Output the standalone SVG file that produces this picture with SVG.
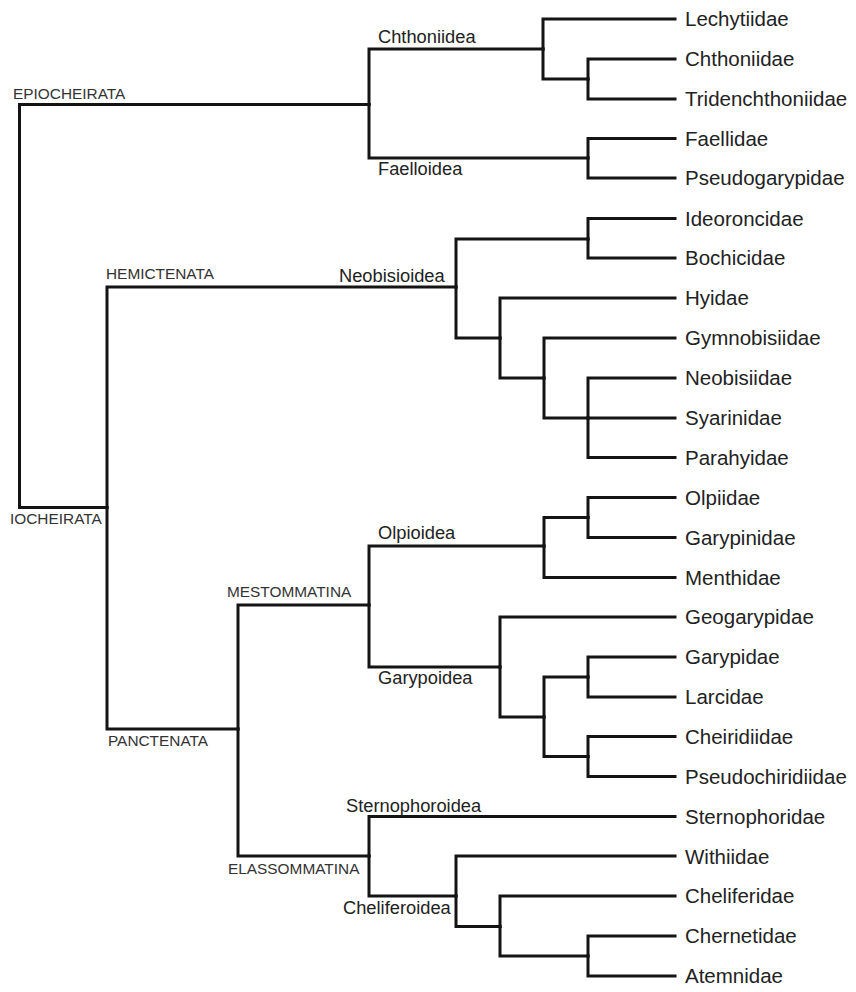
<svg xmlns="http://www.w3.org/2000/svg" width="856" height="992" viewBox="0 0 856 992">
<style>
.e{fill:none;stroke:#141414;stroke-width:3;stroke-linecap:square;stroke-linejoin:miter}
.leaf{font-family:"Liberation Sans",Arial,sans-serif;font-size:20.5px;fill:#222}
.sup{font-family:"Liberation Sans",Arial,sans-serif;font-size:18.3px;fill:#222}
.grp{font-family:"Liberation Sans",Arial,sans-serif;font-size:15.4px;fill:#333}
</style>
<rect width="856" height="992" fill="#fff"/>
<g id="connectors" class="e">
<path d="M19.5,305 V104.5 H369"/>
<path d="M19.5,305 V507.5 H107"/>
<path d="M369,104.5 V49 H543"/>
<path d="M369,104.5 V158 H588"/>
<path d="M543,49 V19 H675"/>
<path d="M543,49 V79 H588"/>
<path d="M588,79 V59 H675"/>
<path d="M588,79 V99 H675"/>
<path d="M588,158 V138.5 H675"/>
<path d="M588,158 V178 H675"/>
<path d="M107,507.5 V287 H456"/>
<path d="M107,507.5 V729 H238"/>
<path d="M456,287 V239 H588"/>
<path d="M456,287 V338 H500"/>
<path d="M588,239 V218.5 H675"/>
<path d="M588,239 V258 H675"/>
<path d="M500,338 V298 H675"/>
<path d="M500,338 V378 H544"/>
<path d="M544,378 V338 H675"/>
<path d="M544,378 V418 H588"/>
<path d="M588,418 V378 H675"/>
<path d="M588,418 H675"/>
<path d="M588,418 V457.5 H675"/>
<path d="M238,729 V605 H369"/>
<path d="M238,729 V856 H369"/>
<path d="M369,605 V546 H544"/>
<path d="M369,605 V667 H500"/>
<path d="M544,546 V517.5 H588"/>
<path d="M544,546 V577.5 H675"/>
<path d="M588,517.5 V497.5 H675"/>
<path d="M588,517.5 V537.5 H675"/>
<path d="M500,667 V617 H675"/>
<path d="M500,667 V717 H544"/>
<path d="M544,717 V677 H588"/>
<path d="M544,717 V756.5 H588"/>
<path d="M588,677 V657 H675"/>
<path d="M588,677 V697 H675"/>
<path d="M588,756.5 V736.5 H675"/>
<path d="M588,756.5 V776.5 H675"/>
<path d="M369,856 V816.5 H675"/>
<path d="M369,856 V896 H456"/>
<path d="M456,896 V856 H675"/>
<path d="M456,896 V926.5 H500"/>
<path d="M500,926.5 V896 H675"/>
<path d="M500,926.5 V956 H588"/>
<path d="M588,956 V936 H675"/>
<path d="M588,956 V976 H675"/>
</g>
<g id="epiocheirata"><text class="grp" x="13" y="99">EPIOCHEIRATA</text></g>
<g id="iocheirata"><text class="grp" x="10" y="524">IOCHEIRATA</text></g>
<g id="hemictenata"><text class="grp" x="106" y="279">HEMICTENATA</text></g>
<g id="panctenata"><text class="grp" x="108" y="746">PANCTENATA</text></g>
<g id="mestommatina"><text class="grp" x="227" y="597">MESTOMMATINA</text></g>
<g id="elassommatina"><text class="grp" x="228" y="874">ELASSOMMATINA</text></g>
<g id="chthoniidea"><text class="sup" x="378" y="43">Chthoniidea</text></g>
<g id="faelloidea"><text class="sup" x="378" y="175">Faelloidea</text></g>
<g id="neobisioidea"><text class="sup" x="339" y="282">Neobisioidea</text></g>
<g id="olpioidea"><text class="sup" x="378" y="539">Olpioidea</text></g>
<g id="garypoidea"><text class="sup" x="378" y="684">Garypoidea</text></g>
<g id="sternophoroidea"><text class="sup" x="346" y="812">Sternophoroidea</text></g>
<g id="cheliferoidea"><text class="sup" x="343" y="914">Cheliferoidea</text></g>
<g id="lechytiidae"><text class="leaf" x="685" y="26">Lechytiidae</text></g>
<g id="chthoniidae"><text class="leaf" x="685" y="66">Chthoniidae</text></g>
<g id="tridenchthoniidae"><text class="leaf" x="685" y="106">Tridenchthoniidae</text></g>
<g id="faellidae"><text class="leaf" x="685" y="146">Faellidae</text></g>
<g id="pseudogarypidae"><text class="leaf" x="685" y="185">Pseudogarypidae</text></g>
<g id="ideoroncidae"><text class="leaf" x="685" y="226">Ideoroncidae</text></g>
<g id="bochicidae"><text class="leaf" x="685" y="265">Bochicidae</text></g>
<g id="hyidae"><text class="leaf" x="685" y="305">Hyidae</text></g>
<g id="gymnobisiidae"><text class="leaf" x="685" y="345">Gymnobisiidae</text></g>
<g id="neobisiidae"><text class="leaf" x="685" y="385">Neobisiidae</text></g>
<g id="syarinidae"><text class="leaf" x="685" y="425">Syarinidae</text></g>
<g id="parahyidae"><text class="leaf" x="685" y="465">Parahyidae</text></g>
<g id="olpiidae"><text class="leaf" x="685" y="505">Olpiidae</text></g>
<g id="garypinidae"><text class="leaf" x="685" y="545">Garypinidae</text></g>
<g id="menthidae"><text class="leaf" x="685" y="585">Menthidae</text></g>
<g id="geogarypidae"><text class="leaf" x="685" y="624">Geogarypidae</text></g>
<g id="garypidae"><text class="leaf" x="685" y="664">Garypidae</text></g>
<g id="larcidae"><text class="leaf" x="685" y="704">Larcidae</text></g>
<g id="cheiridiidae"><text class="leaf" x="685" y="744">Cheiridiidae</text></g>
<g id="pseudochiridiidae"><text class="leaf" x="685" y="784">Pseudochiridiidae</text></g>
<g id="sternophoridae"><text class="leaf" x="685" y="824">Sternophoridae</text></g>
<g id="withiidae"><text class="leaf" x="685" y="864">Withiidae</text></g>
<g id="cheliferidae"><text class="leaf" x="685" y="903">Cheliferidae</text></g>
<g id="chernetidae"><text class="leaf" x="685" y="943">Chernetidae</text></g>
<g id="atemnidae"><text class="leaf" x="685" y="983">Atemnidae</text></g>
</svg>
